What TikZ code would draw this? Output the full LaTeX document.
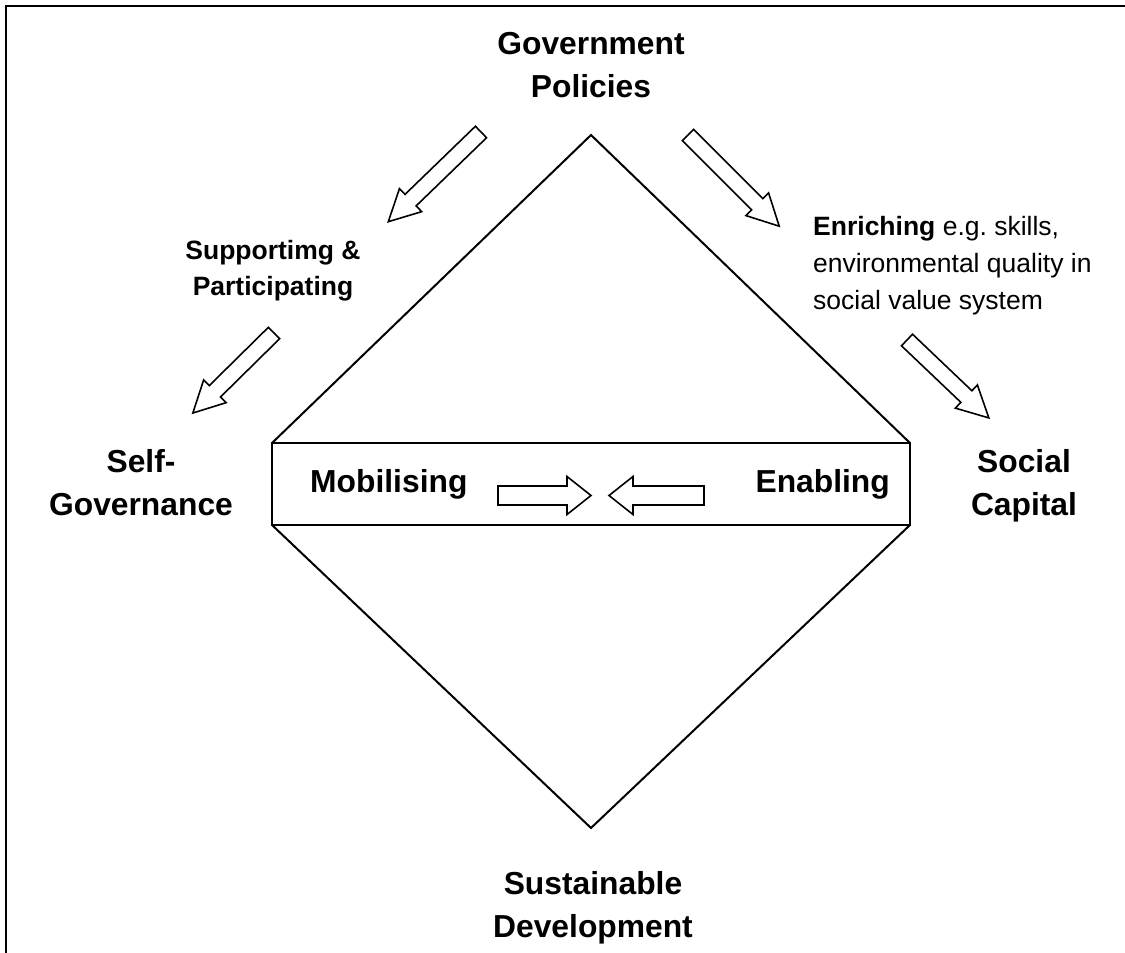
\documentclass[tikz,border=0pt]{standalone}
\usepackage{fontspec}
\setmainfont{Liberation Sans}
\tikzset{
  shapeline/.style={draw=black, line width=2pt, line join=miter},
  arrowline/.style={draw=black, fill=white, line width=1.6pt, line join=miter},
  biglabel/.style={font=\fontsize{31.8}{42.5}\selectfont\bfseries, align=center, inner sep=0pt},
  smalllabel/.style={font=\fontsize{26.5}{37}\selectfont, inner sep=0pt},
}
\newcommand{\barrow}[7]{%
  \begin{scope}[shift={(#1,#2)},rotate=#3]
    \draw[arrowline] (0,{-#5/2}) -- ({#4-#7},{-#5/2}) -- ({#4-#7},{-#6/2}) -- (#4,0)
      -- ({#4-#7},{#6/2}) -- ({#4-#7},{#5/2}) -- (0,{#5/2}) -- cycle;
  \end{scope}}
\begin{document}
\begin{tikzpicture}[x=1pt,y=1pt]
\useasboundingbox (0,0) rectangle (1125,-953);
% frame
\draw[line width=2.5pt] (6,-953) -- (6,-6) -- (1125,-6);
% diamond
\coordinate (L1) at (272,-443);
\coordinate (R1) at (910,-443);
\coordinate (L2) at (272,-525);
\coordinate (R2) at (910,-525);
\coordinate (T) at (591,-135);
\coordinate (B) at (591,-828);
\draw[shapeline] (L1) -- (T) -- (R1);
\draw[shapeline] (L2) -- (B) -- (R2);
\draw[shapeline] (L1) rectangle (R2);
% block arrows
\barrow{481}{-132}{224.06}{129}{16}{32}{31}
\barrow{274}{-333}{224.6}{114}{16}{32}{31}
\barrow{688}{-135}{-45}{129}{16}{32}{31}
\barrow{907}{-340}{-43.6}{113}{16}{32}{31}
\barrow{498}{-495.5}{0}{93}{19}{38}{24}
\barrow{704}{-495.5}{180}{95}{19}{38}{24}
% labels (base anchor = baseline of the last line)
\node[biglabel, anchor=base] (gov) at (591,-97) {Government\\Policies};
\node[biglabel, anchor=base] (self) at (141,-515) {Self-\\Governance};
\node[biglabel, anchor=base] (soc) at (1024,-515) {Social\\Capital};
\node[biglabel, anchor=base] (sus) at (593,-937) {Sustainable\\Development};
\node[biglabel, anchor=base west] (mob) at (310,-492) {Mobilising};
\node[biglabel, anchor=base east] (ena) at (890,-492) {Enabling};
\node[smalllabel, font=\fontsize{26.5}{36}\selectfont\bfseries, align=center, anchor=base] (sup) at (273,-295) {Supportimg \&\\Participating};
\node[smalllabel, align=left, anchor=base west] (enr) at (813,-309) {\textbf{Enriching} e.g.\ skills,\\environmental quality in\\social value system};
\end{tikzpicture}
\end{document}
